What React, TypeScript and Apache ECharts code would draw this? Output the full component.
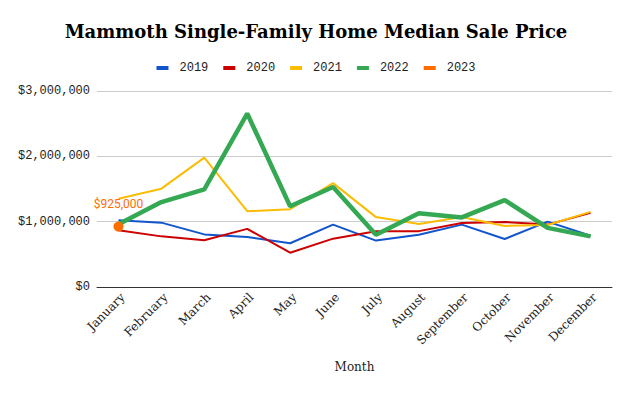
import React, { useEffect, useRef } from "react";
import * as echarts from "echarts";

const months = ["January", "February", "March", "April", "May", "June", "July", "August", "September", "October", "November", "December"];
const y2019 = [1020000, 985000, 805000, 765000, 670000, 955000, 710000, 800000, 955000, 735000, 1000000, 785000];
const y2020 = [870000, 775000, 715000, 890000, 525000, 740000, 855000, 855000, 980000, 995000, 955000, 1135000];
const y2021 = [1350000, 1505000, 1980000, 1160000, 1190000, 1590000, 1070000, 965000, 1070000, 935000, 950000, 1150000];
const y2022 = [960000, 1300000, 1495000, 2655000, 1235000, 1530000, 800000, 1130000, 1065000, 1330000, 905000, 775000];
const y2023 = [925000];
const yTicks = [0, 1000000, 2000000, 3000000];

const fmt = (v: number) => "$" + v.toLocaleString("en-US");

export default function App() {
  const ref = useRef<HTMLDivElement>(null);
  useEffect(() => {
    document.body.style.margin = "0";
    const chart = echarts.init(ref.current!, null, { renderer: "svg" });
    const lineSeries = (name: string, data: number[], color: string, width: number) => ({
      name,
      type: "line",
      data,
      showSymbol: false,
      symbol: "none",
      lineStyle: { color, width },
      itemStyle: { color },
    });
    chart.setOption({
      animation: false,
      title: {
        text: "Mammoth Single-Family Home Median Sale Price",
        left: "center",
        top: 17,
        textStyle: { fontFamily: "DejaVu Serif", fontWeight: "bold", fontSize: 18, color: "#000" },
      },
      legend: {
        top: 57,
        left: "center",
        icon: "rect",
        itemWidth: 12,
        itemHeight: 4,
        itemGap: 15,
        textStyle: { fontFamily: "Liberation Mono", fontSize: 12, color: "#222", padding: [0, 0, 0, 6] },
        data: ["2019", "2020", "2021", "2022", "2023"],
      },
      grid: { left: 97, right: 20, top: 91, bottom: 106, containLabel: false },
      xAxis: {
        type: "category",
        data: months,
        boundaryGap: true,
        name: "Month",
        nameLocation: "middle",
        nameGap: 74,
        nameTextStyle: { fontFamily: "DejaVu Serif", fontSize: 12, color: "#222" },
        axisLine: { lineStyle: { color: "#333", width: 1 } },
        axisTick: { show: false },
        axisLabel: {
          rotate: 45,
          interval: 0,
          fontFamily: "DejaVu Serif",
          fontSize: 12,
          color: "#222",
          margin: 4,
          verticalAlign: "top",
        },
      },
      yAxis: {
        type: "value",
        min: yTicks[0],
        max: yTicks[yTicks.length - 1],
        interval: 1000000,
        axisLine: { show: false },
        axisTick: { show: false },
        splitLine: { lineStyle: { color: "#cccccc" } },
        axisLabel: { formatter: fmt, fontFamily: "Liberation Mono", fontSize: 12, color: "#222", margin: 7 },
      },
      series: [
        lineSeries("2019", y2019, "#1155cc", 2),
        lineSeries("2020", y2020, "#cc0000", 2),
        lineSeries("2021", y2021, "#fbbc04", 2),
        lineSeries("2022", y2022, "#34a853", 4.5),
        {
          name: "2023",
          type: "line",
          data: y2023,
          symbol: "circle",
          symbolSize: 10,
          itemStyle: { color: "#ff6d01" },
          lineStyle: { color: "#ff6d01", width: 2 },
          label: {
            show: true,
            position: "top",
            distance: 12,
            formatter: (p: any) => fmt(p.value),
            color: "#ff6d01",
            fontFamily: "Roboto",
            fontSize: 12,
          },
          z: 5,
        },
      ],
    });
    return () => chart.dispose();
  }, []);
  return <div ref={ref} style={{ width: 632, height: 393 }} />;
}
